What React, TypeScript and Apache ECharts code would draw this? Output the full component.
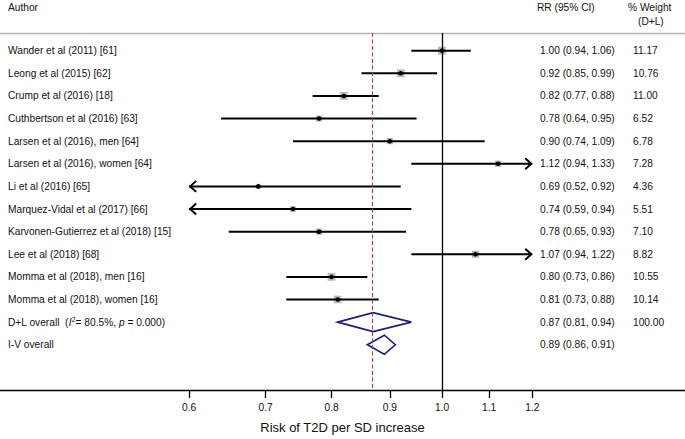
import React, { useEffect, useRef } from "react";
import * as echarts from "echarts";

const authors = [
  "Wander et al (2011) [61]",
  "Leong et al (2015) [62]",
  "Crump et al (2016) [18]",
  "Cuthbertson et al (2016) [63]",
  "Larsen et al (2016), men [64]",
  "Larsen et al (2016), women [64]",
  "Li et al (2016) [65]",
  "Marquez-Vidal et al (2017) [66]",
  "Karvonen-Gutierrez et al (2018) [15]",
  "Lee et al (2018) [68]",
  "Momma et al (2018), men [16]",
  "Momma et al (2018), women [16]",
];
const rr = [1.0, 0.92, 0.82, 0.78, 0.9, 1.12, 0.69, 0.74, 0.78, 1.07, 0.8, 0.81];
const lower = [0.94, 0.85, 0.77, 0.64, 0.74, 0.94, 0.52, 0.59, 0.65, 0.94, 0.73, 0.73];
const upper = [1.06, 0.99, 0.88, 0.95, 1.09, 1.33, 0.92, 0.94, 0.93, 1.22, 0.86, 0.88];
const weights = [11.17, 10.76, 11.0, 6.52, 6.78, 7.28, 4.36, 5.51, 7.1, 8.82, 10.55, 10.14];

const overallNames = ["D+L overall", "I-V overall"];
const overallRR = [0.87, 0.89];
const overallLower = [0.81, 0.86];
const overallUpper = [0.94, 0.91];
const overallWeights = ["100.00", ""];
const i2Text = "80.5%";
const pText = "0.000";

const xTicks = [0.6, 0.7, 0.8, 0.9, 1.0, 1.1, 1.2];
const xRange = [0.4094, 1.634];
const clipRange = [0.6, 1.2];
const nullValue = 1.0;
const pooledValue = 0.87;

const FONT = "'Liberation Sans', Arial, Helvetica, sans-serif";
const fmt = (v: number) => v.toFixed(2);

export default function App() {
  const ref = useRef<HTMLDivElement>(null);
  useEffect(() => {
    document.body.style.margin = "0";
    const chart = echarts.init(ref.current!, null, { renderer: "svg" });
    const nRows = authors.length + overallNames.length;
    const rowIdx = Array.from({ length: nRows }, (_, i) => i);
    const ln = Math.log;

    const studyData = rr.map((v, i) => [ln(v), i, ln(lower[i]), ln(upper[i]), weights[i]]);
    const overallData = overallRR.map((v, i) => [
      ln(v),
      authors.length + i,
      ln(overallLower[i]),
      ln(overallUpper[i]),
    ]);

    const rrLabels = [
      ...rr.map((v, i) => `${fmt(v)} (${fmt(lower[i])}, ${fmt(upper[i])})`),
      ...overallRR.map((v, i) => `${fmt(v)} (${fmt(overallLower[i])}, ${fmt(overallUpper[i])})`),
    ];
    const wLabels = [...weights.map((w) => w.toFixed(2)), ...overallWeights];

    const yBase = {
      type: "value",
      min: -0.78,
      max: 15,
      inverse: true,
      axisLine: { show: false },
      axisTick: { show: false },
      splitLine: { show: false },
    };
    const labelStyle = { fontSize: 10.2, fontFamily: FONT, color: "#111" };
    const lnMin = ln(clipRange[0]);
    const lnMax = ln(clipRange[1]);

    const option: any = {
      animation: false,
      backgroundColor: "#fff",
      grid: { left: 0, right: 0, top: 33, bottom: 44, containLabel: false },
      xAxis: [
        {
          type: "value",
          position: "bottom",
          min: ln(xRange[0]),
          max: ln(xRange[1]),
          axisLine: { show: true, onZero: false, lineStyle: { color: "#000", width: 1.3 } },
          axisTick: {
            show: true,
            customValues: xTicks.map(ln),
            length: 8,
            lineStyle: { color: "#000", width: 1.3 },
          },
          axisLabel: {
            customValues: xTicks.map(ln),
            formatter: (v: number) => Math.exp(v).toFixed(1),
            margin: 12,
            ...labelStyle,
          },
          splitLine: { show: false },
          name: "Risk of T2D per SD increase",
          nameLocation: "middle",
          nameGap: 31,
          nameTextStyle: { fontSize: 13, fontFamily: FONT, color: "#111" },
        },
        {
          type: "value",
          position: "top",
          min: ln(xRange[0]),
          max: ln(xRange[1]),
          axisLine: { show: true, onZero: false, lineStyle: { color: "#b4b4b4", width: 1.3 } },
          axisTick: { show: false },
          axisLabel: { show: false },
          splitLine: { show: false },
        },
      ],
      yAxis: [
        {
          ...yBase,
          position: "left",
          axisLabel: {
            inside: true,
            margin: 8,
            customValues: rowIdx,
            ...labelStyle,
            formatter: (v: number) => {
              const i = Math.round(v);
              if (i < authors.length) return authors[i];
              if (i === authors.length)
                return `${overallNames[0]}  ({it|I}{sup|2}= ${i2Text}, {it|p} = ${pText})`;
              return overallNames[i - authors.length];
            },
            rich: {
              it: { fontStyle: "italic", fontSize: 10.2, fontFamily: FONT, color: "#111" },
              sup: { fontSize: 7, fontFamily: FONT, color: "#111", verticalAlign: "top", padding: [0, 0, 5, 0] },
            },
          },
        },
        {
          ...yBase,
          position: "right",
          offset: -145,
          axisLabel: {
            margin: 0,
            customValues: rowIdx,
            ...labelStyle,
            formatter: (v: number) => rrLabels[Math.round(v)] ?? "",
          },
        },
        {
          ...yBase,
          position: "right",
          offset: -52,
          axisLabel: {
            margin: 0,
            customValues: rowIdx.slice(0, authors.length + 1),
            ...labelStyle,
            formatter: (v: number) => wLabels[Math.round(v)] ?? "",
          },
        },
      ],
      graphic: [
        { type: "text", x: 8, y: 7, style: { text: "Author", fontSize: 10.2, fontFamily: FONT, fill: "#111", verticalAlign: "middle" } },
        { type: "text", x: 537, y: 7, style: { text: "RR (95% CI)", fontSize: 10.2, fontFamily: FONT, fill: "#111", verticalAlign: "middle" } },
        { type: "text", x: 628, y: 7, style: { text: "% Weight", fontSize: 10.2, fontFamily: FONT, fill: "#111", verticalAlign: "middle" } },
        { type: "text", x: 638, y: 21, style: { text: "(D+L)", fontSize: 10.2, fontFamily: FONT, fill: "#111", verticalAlign: "middle" } },
      ],
      series: [
        {
          type: "line",
          data: [],
          silent: true,
          markLine: {
            silent: true,
            symbol: "none",
            label: { show: false },
            data: [
              { xAxis: ln(nullValue), lineStyle: { color: "#000", width: 1.3, type: "solid" } },
              { xAxis: ln(pooledValue), lineStyle: { color: "#b03a48", width: 1.1, type: [4, 2.5] } },
            ],
          },
        },
        {
          type: "custom",
          coordinateSystem: "cartesian2d",
          encode: { x: 0, y: 1 },
          data: studyData,
          silent: true,
          renderItem: (params: any, api: any) => {
            const est = api.value(0);
            const row = api.value(1);
            const lo = api.value(2);
            const hi = api.value(3);
            const w = api.value(4);
            const cLo = Math.max(lo, lnMin);
            const cHi = Math.min(hi, lnMax);
            const p0 = api.coord([cLo, row]);
            const p1 = api.coord([cHi, row]);
            const pc = api.coord([est, row]);
            const side = 2.4 * Math.sqrt(w);
            const children: any[] = [
              {
                type: "rect",
                shape: { x: pc[0] - side / 2, y: pc[1] - side / 2, width: side, height: side },
                style: { fill: "#bdbdbd" },
              },
              {
                type: "line",
                shape: { x1: p0[0], y1: p0[1], x2: p1[0], y2: p1[1] },
                style: { stroke: "#000", lineWidth: 2 },
              },
            ];
            if (lo < lnMin) {
              children.push({
                type: "polyline",
                shape: { points: [[p0[0] + 7, p0[1] - 5.5], [p0[0] + 1, p0[1]], [p0[0] + 7, p0[1] + 5.5]] },
                style: { stroke: "#000", lineWidth: 2, fill: "none" },
              });
            }
            if (hi > lnMax) {
              children.push({
                type: "polyline",
                shape: { points: [[p1[0] - 7, p1[1] - 5.5], [p1[0] - 1, p1[1]], [p1[0] - 7, p1[1] + 5.5]] },
                style: { stroke: "#000", lineWidth: 2, fill: "none" },
              });
            }
            children.push({
              type: "circle",
              shape: { cx: pc[0], cy: pc[1], r: 2.3 },
              style: { fill: "#000" },
            });
            return { type: "group", children };
          },
        },
        {
          type: "custom",
          coordinateSystem: "cartesian2d",
          encode: { x: 0, y: 1 },
          data: overallData,
          silent: true,
          renderItem: (params: any, api: any) => {
            const est = api.value(0);
            const row = api.value(1);
            const pl = api.coord([api.value(2), row]);
            const pr = api.coord([api.value(3), row]);
            const pc = api.coord([est, row]);
            const h = 9.5;
            return {
              type: "polygon",
              shape: { points: [[pl[0], pl[1]], [pc[0], pc[1] - h], [pr[0], pr[1]], [pc[0], pc[1] + h]] },
              style: { stroke: "#1c1c84", lineWidth: 1.6, fill: "none" },
            };
          },
        },
      ],
    };
    chart.setOption(option);
    return () => chart.dispose();
  }, []);
  return (
    <div
      ref={ref}
      style={{ width: 685, height: 439, position: "absolute", left: 0, top: 0 }}
    />
  );
}
